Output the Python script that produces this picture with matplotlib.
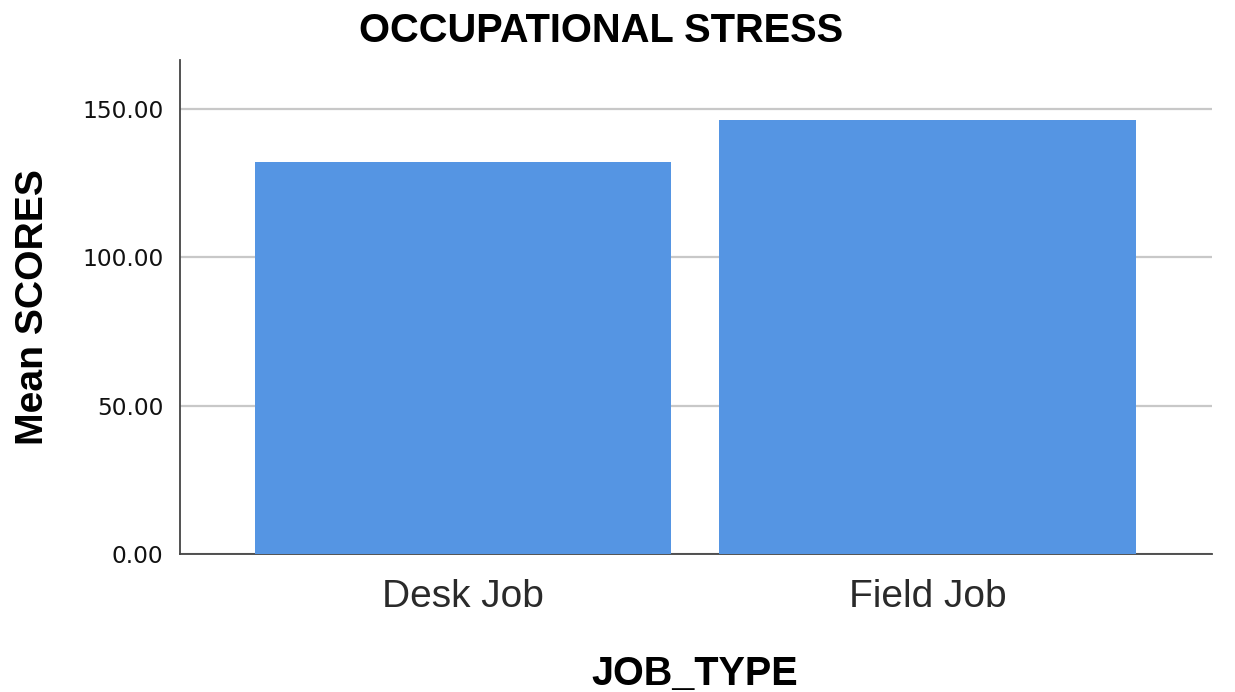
import matplotlib
matplotlib.use("Agg")
import matplotlib.pyplot as plt

# data
job_types = ["Desk Job", "Field Job"]
mean_scores = [132.2, 146.3]
y_ticks = [0, 50, 100, 150]

W, H = 1235, 692
fig = plt.figure(figsize=(W / 100, H / 100), dpi=100)
ax = fig.add_axes([180/W, 1 - 554/H, 1032/W, 494/H])

x = list(range(len(job_types)))
ax.bar(x, mean_scores, width=0.896, color="#5595e3", zorder=3)

ax.set_xlim(-0.609, 1.6125)
ax.set_ylim(0, 166.5)
ax.set_yticks(y_ticks)
ax.set_yticklabels(["%.2f" % v for v in y_ticks], fontsize=16.8, family="DejaVu Sans", color="#111111")
ax.set_xticks(x)
ax.set_xticklabels(job_types, fontsize=28, family="Liberation Sans", color="#2a2a2a")
ax.tick_params(axis="both", length=0)
ax.tick_params(axis="y", pad=12)
ax.tick_params(axis="x", pad=18)

ax.yaxis.grid(True, color="#c8c8c8", linewidth=1.6, zorder=0)
for s in ["top", "right"]:
    ax.spines[s].set_visible(False)
for s in ["left", "bottom"]:
    ax.spines[s].set_color("#444444")
    ax.spines[s].set_linewidth(1.3)

# titles / axis labels placed in pixel coords of the reference
fig.text(601/W, 1 - 42/H, "OCCUPATIONAL STRESS", fontsize=28.7, fontweight="bold",
         family="Liberation Sans", ha="center", va="baseline")
fig.text(43/W, 1 - 307.5/H, "Mean SCORES", fontsize=28.2, fontweight="bold",
         family="Liberation Sans", rotation=90, rotation_mode="anchor",
         ha="center", va="baseline")
fig.text(695/W, 1 - 685/H, "JOB_TYPE", fontsize=28.5, fontweight="bold",
         family="Liberation Sans", ha="center", va="baseline")

fig.savefig("out.png", dpi=100)
